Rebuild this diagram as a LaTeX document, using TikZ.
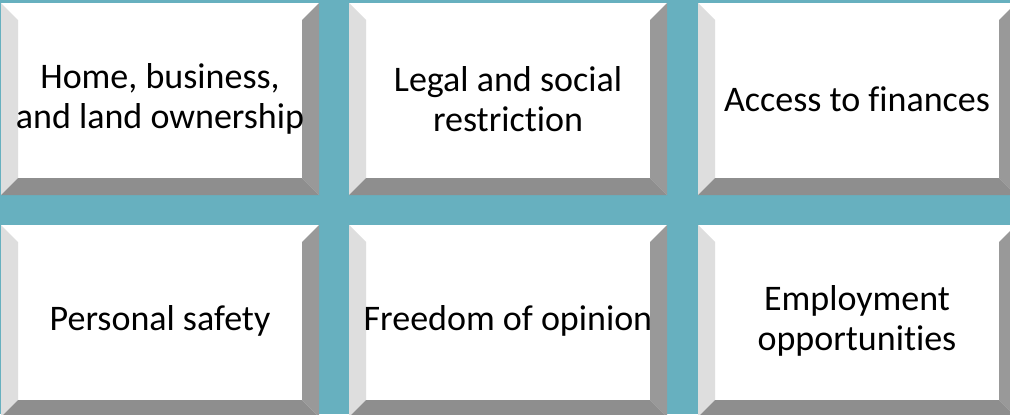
\documentclass[tikz,border=0pt]{standalone}
\usepackage{fontspec}
\setmainfont{Carlito}[Ligatures=NoCommon]
\definecolor{panelteal}{HTML}{67B0BF}
\definecolor{bevlight}{HTML}{DEDEDE}
\definecolor{bevright}{HTML}{999999}
\definecolor{bevbottom}{HTML}{8E8E8E}
\tikzset{
  tiletext/.style={align=center, text=black, inner sep=0pt,
    font=\fontsize{27}{30}\selectfont},
}
% bevelled tile: name, left, top, text
\newcommand{\beveltile}[4]{%
  \fill[white] (#2,#3) rectangle ++(318,192);
  \fill[bevlight] (#2,#3) -- ++(17,17) -- ++(0,158) -- ++(-17,17) -- cycle;
  \fill[bevright] (#2+318,#3) -- ++(-17,17) -- ++(0,158) -- ++(17,17) -- cycle;
  \fill[bevbottom] (#2,#3+192) -- ++(17,-17) -- ++(284,0) -- ++(17,17) -- cycle;
  \node[tiletext] (#1) at (#2+159,#3+96) {#4};
}

\begin{document}
\begin{tikzpicture}[x=0.75pt, y=-0.75pt]
    \clip (0,0) rectangle (1010,414);
    \fill[panelteal] (0,0) rectangle (1010,414);
    % top row
    \beveltile{home}{1}{3}{Home, business,\\and land ownership}
    \beveltile{legal}{349}{3}{Legal and social\\restriction}
    \beveltile{finance}{698}{3}{Access to finances}
    % bottom row
    \beveltile{safety}{1}{225}{Personal safety}
    \beveltile{opinion}{349}{225}{Freedom of opinion}
    \beveltile{jobs}{698}{225}{Employment\\opportunities}
\end{tikzpicture}
\end{document}
